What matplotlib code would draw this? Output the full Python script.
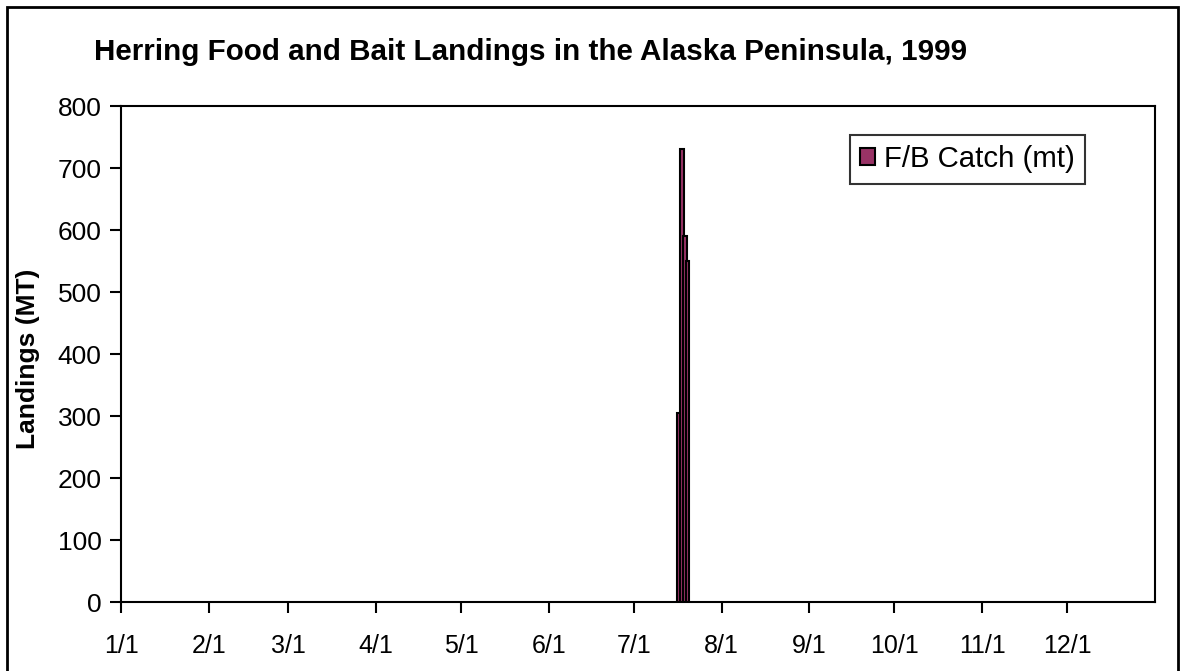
import matplotlib.pyplot as plt
from matplotlib.patches import Rectangle
import datetime as dt

# DONNEES
dates = ["1999-07-17", "1999-07-18", "1999-07-19", "1999-07-20"]
catch = [305, 730, 590, 550]
month_labels = ["1/1", "2/1", "3/1", "4/1", "5/1", "6/1", "7/1", "8/1", "9/1", "10/1", "11/1", "12/1"]

plt.rcParams['font.family'] = ['Liberation Sans', 'DejaVu Sans']

fig = plt.figure(figsize=(11.86, 6.71), dpi=100)
ax = fig.add_axes([121/1186, 1 - 602/671, (1155-121)/1186, (602-106)/671])

# CADRE EXTERIEUR
fig.patches.append(Rectangle((7/1186, -0.05), (1178-7)/1186, 1.05 - 7/671,
                             transform=fig.transFigure, fill=False, edgecolor="black", linewidth=2))

# BARRES
x = [dt.datetime.strptime(d, "%Y-%m-%d") for d in dates]
ax.bar(x, catch, width=1.3, color="#993366", edgecolor="black", linewidth=1.5,
       label="F/B Catch (mt)", align="center")

# AXES
ax.set_xlim(dt.datetime(1999, 1, 1), dt.datetime(2000, 1, 1))
ax.set_ylim(0, 800)
ax.set_yticks(range(0, 801, 100))
ticks = [dt.datetime(1999, m, 1) for m in range(1, 13)]
ax.set_xticks(ticks)
ax.set_xticklabels(month_labels)
ax.tick_params(axis="both", length=8, width=1.5, direction="out")
ax.tick_params(axis="y", labelsize=19, pad=6)
ax.tick_params(axis="x", labelsize=18, pad=15)
for s in ax.spines.values():
    s.set_linewidth(1.5)

ax.set_ylabel("Landings (MT)", fontsize=19, fontweight="bold")
ax.yaxis.set_label_coords((40-121)/1034, 0.49)
fig.text(94/1186, 1 - 52/671, "Herring Food and Bait Landings in the Alaska Peninsula, 1999",
         fontsize=21.3, fontweight="bold", va="center", ha="left")

leg = ax.legend(loc="upper right", bbox_to_anchor=((1085-121)/1034, (602-135)/496),
                fontsize=21.2, frameon=True, fancybox=False, handlelength=0.5, handleheight=0.5,
                handletextpad=0.3, borderpad=0.35, borderaxespad=0)
leg.get_frame().set_edgecolor("black")
leg.get_frame().set_linewidth(1.5)

fig.savefig("out.png", dpi=100)
